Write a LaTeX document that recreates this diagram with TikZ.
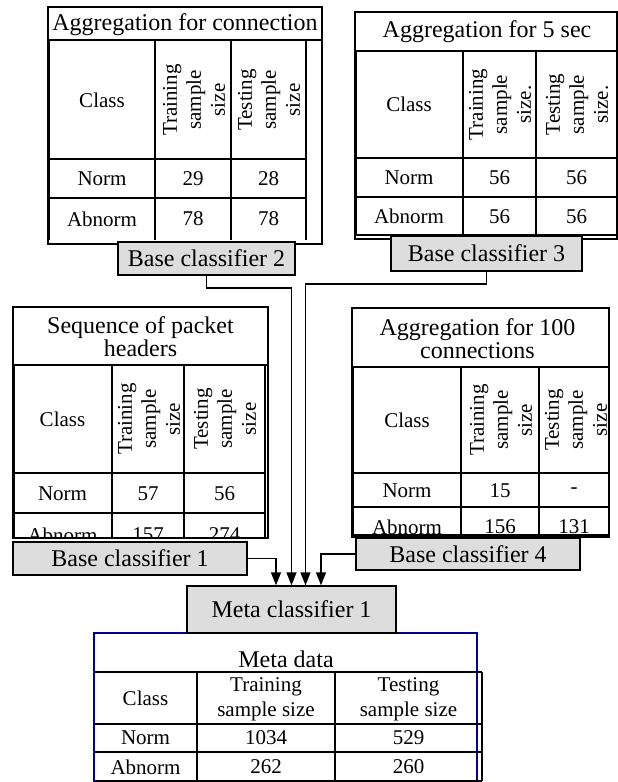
\documentclass[tikz,border=0pt]{standalone}
\usepackage{fontspec}
\setmainfont{Liberation Serif}
\usetikzlibrary{arrows.meta}
\definecolor{boxgray}{RGB}{221,221,221}
\definecolor{navyline}{RGB}{0,0,140}
\tikzset{
  frameline/.style={line width=1.3pt},
  tline/.style={line width=2pt},
  mline/.style={line width=1.5pt},
  cell/.style={font=\fontsize{21}{24}\selectfont, inner sep=0pt},
  rothead/.style={cell, rotate=90, align=center},
  ttl/.style={font=\fontsize{24}{23}\selectfont, align=center, inner sep=0pt},
  cls/.style={draw, line width=1.4pt, fill=boxgray, font=\fontsize{24}{28}\selectfont, inner sep=0pt},
  arr/.style={line width=1.6pt, -{Triangle[width=10pt,length=13pt]}}
}
\begin{document}
\begin{tikzpicture}[x=1pt,y=-1pt]
\useasboundingbox (0,0) rectangle (618,782);
% ---------- Table 1: Aggregation for connection
\draw[frameline] (48,7) rectangle (322,244);
\draw[frameline] (48,40) -- (322,40);
\draw[tline] (49,40) -- (49,240) (155,40) -- (155,240) (231,40) -- (231,240) (306,40) -- (306,240)
  (49,159) -- (306,159) (49,198) -- (306,198);
\node[ttl] (t1title) at (185,25) {Aggregation for connection};
\node[cell] (t1h1) at (102,100) {Class};
\node[rothead] (t1h2) at (194,100) {Training\\sample\\size};
\node[rothead] (t1h3) at (269,100) {Testing\\sample\\size};
\node[cell] (t1a1) at (102,178.5) {Norm};
\node[cell] (t1a2) at (193,178.5) {29};
\node[cell] (t1a3) at (268.5,178.5) {28};
\node[cell] (t1b1) at (102,219) {Abnorm};
\node[cell] (t1b2) at (193,219) {78};
\node[cell] (t1b3) at (268.5,219) {78};
% ---------- Table 2: Aggregation for 5 sec
\draw[frameline] (355,12) rectangle (617,239);
\draw[frameline] (355,51) -- (617,51);
\draw[tline] (356,51) -- (356,235) (463,51) -- (463,235) (536,51) -- (536,235)
  (355,158) -- (617,158) (355,197) -- (617,197) (355,235) -- (617,235);
\node[ttl] (t2title) at (487,32) {Aggregation for 5 sec};
\node[cell] (t2h1) at (409,104.5) {Class};
\node[rothead] (t2h2) at (500,104.5) {Training\\sample\\size.};
\node[rothead] (t2h3) at (577,104.5) {Testing\\sample\\size.};
\node[cell] (t2a1) at (409,177.5) {Norm};
\node[cell] (t2a2) at (499.5,177.5) {56};
\node[cell] (t2a3) at (576.5,177.5) {56};
\node[cell] (t2b1) at (409,216.5) {Abnorm};
\node[cell] (t2b2) at (499.5,216.5) {56};
\node[cell] (t2b3) at (576.5,216.5) {56};
% ---------- Table 3: Sequence of packet headers
\draw[frameline] (13,307) rectangle (268,538);
\draw[frameline] (13,365) -- (268,365);
\draw[tline] (14,365) -- (14,538) (112,365) -- (112,538) (184,365) -- (184,538) (265,365) -- (265,538)
  (14,473) -- (265,473) (14,513) -- (265,513) (14,538) -- (265,538);
\node[ttl] (t3title) at (140.5,337) {Sequence of packet\\headers};
\node[cell] (t3h1) at (62.5,419) {Class};
\node[rothead] (t3h2) at (149,419) {Training\\sample\\size};
\node[rothead] (t3h3) at (225,419) {Testing\\sample\\size};
\node[cell] (t3a1) at (62.5,494) {Norm};
\node[cell] (t3a2) at (148,494) {57};
\node[cell] (t3a3) at (224.5,494) {56};
\begin{scope}
\clip (14,513) rectangle (265,537);
\node[cell] (t3b1) at (62.5,535) {Abnorm};
\node[cell] (t3b2) at (148,535) {157};
\node[cell] (t3b3) at (224.5,535) {274};
\end{scope}
% ---------- Table 4: Aggregation for 100 connections
\draw[frameline] (352,308) rectangle (609,537);
\draw[frameline] (352,367) -- (609,367);
\draw[tline] (353,367) -- (353,535) (461,367) -- (461,535) (539,367) -- (539,535) (609,367) -- (609,535)
  (353,473) -- (609,473) (353,507) -- (609,507) (353,535) -- (609,535);
\node[ttl] (t4title) at (477.5,339) {Aggregation for 100\\connections};
\node[cell] (t4h1) at (407,420) {Class};
\node[rothead] (t4h2) at (501,420) {Training\\sample\\size};
\node[rothead] (t4h3) at (576,420) {Testing\\sample\\size};
\node[cell] (t4a1) at (407,491) {Norm};
\node[cell] (t4a2) at (500,491) {15};
\node[cell] (t4a3) at (574,491) {-};
\node[cell] (t4b1) at (407,527) {Abnorm};
\node[cell] (t4b2) at (500,527) {156};
\node[cell] (t4b3) at (574,527) {131};
% ---------- Meta data
\draw[navyline, line width=1.3pt] (94,782) -- (94,633) -- (477,633) -- (477,782);
\draw[mline] (95,672) -- (482,672) (95,724) -- (482,724) (95,752) -- (482,752) (95,781) -- (482,781)
  (197,672) -- (197,781) (335,672) -- (335,781) (482,672) -- (482,781);
\node[ttl] (mtitle) at (286,659) {Meta data};
\node[cell] (mh1) at (145.5,698) {Class};
\node[cell, align=center, font=\fontsize{21}{25}\selectfont] (mh2) at (266,699) {Training\\sample size};
\node[cell, align=center, font=\fontsize{21}{25}\selectfont] (mh3) at (408.5,699) {Testing\\sample size};
\node[cell] (ma1) at (145.5,738) {Norm};
\node[cell] (ma2) at (266,738) {1034};
\node[cell] (ma3) at (408.5,738) {529};
\node[cell] (mb1) at (145.5,767) {Abnorm};
\node[cell] (mb2) at (266,767) {262};
\node[cell] (mb3) at (408.5,767) {260};
% ---------- Classifiers
\node[cls, minimum width=177pt, minimum height=33pt] (b2) at (206.5,258.5) {Base classifier 2};
\node[cls, minimum width=191pt, minimum height=35pt] (b3) at (486.5,253.5) {Base classifier 3};
\node[cls, minimum width=234pt, minimum height=33pt] (b1) at (130,558.5) {Base classifier 1};
\node[cls, minimum width=224pt, minimum height=32pt] (b4) at (468,554) {Base classifier 4};
\node[cls, minimum width=209pt, minimum height=47pt] (meta) at (291.5,609.5) {Meta classifier 1};
% ---------- Connectors
\draw[arr] (b1.east) -| ([xshift=-15.5pt]meta.north);
\draw[arr] (b2.south) -- ++(0,12) -| (meta.north);
\draw[arr] (b3.south) -- ++(0,12) -| ([xshift=14pt]meta.north);
\draw[arr] (b4.west) -| ([xshift=29.5pt]meta.north);
\end{tikzpicture}
\end{document}
